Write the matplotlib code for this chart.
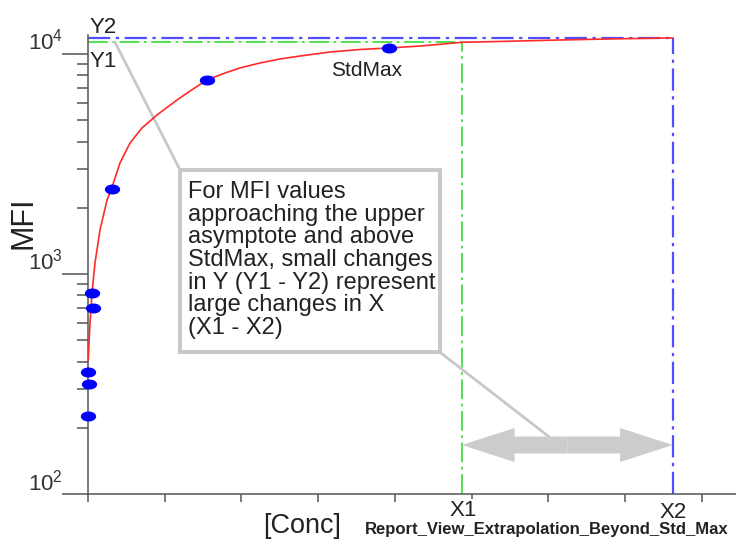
import matplotlib
matplotlib.use("Agg")
import matplotlib.pyplot as plt
from matplotlib.patches import FancyArrowPatch, ArrowStyle, Rectangle
from matplotlib.path import Path
from matplotlib.transforms import Affine2D
from matplotlib.ticker import FixedLocator, NullFormatter

plt.rcParams["font.family"] = ["Liberation Sans", "DejaVu Sans"]
plt.rcParams["mathtext.fontset"] = "custom"
plt.rcParams["mathtext.rm"] = "Liberation Sans"
plt.rcParams["mathtext.it"] = "Liberation Sans:italic"
plt.rcParams["mathtext.bf"] = "Liberation Sans:bold"

# standards
std_conc = [0.048, 0.069, 0.004, 0.013, 0.004, 0.31, 1.55, 3.92]
std_mfi = [820, 700, 359, 316, 226, 2430, 7620, 10650]

# fitted curve
curve_conc = [0.003, 0.026, 0.052, 0.091, 0.156, 0.248, 0.313, 0.417, 0.547,
              0.704, 0.899, 1.16, 1.33, 1.55, 1.785, 1.98, 2.24, 2.50, 2.76,
              3.15, 3.54, 3.92, 4.33, 4.87, 5.63, 6.15, 6.93, 7.62]
curve_mfi = [406, 599, 820, 1122, 1585, 2168, 2483, 3198, 3939,
             4613, 5284, 6180, 6790, 7622, 8197, 8640, 9100, 9490, 9790,
             10210, 10480, 10650, 10870, 11300, 11460, 11580, 11730, 11830]

# extrapolation markers
X1, X2 = 4.87, 7.62
Y1, Y2 = 11340, 11820
arrow_mfi = 167

y_major = [100, 1000, 10000]
y_labels = ["10$^{2}$", "10$^{3}$", "10$^{4}$"]
x_major = list(range(9))

box_text = ("For MFI values\napproaching the upper\nasymptote and above\n"
            "StdMax, small changes\nin Y (Y1 - Y2) represent\n"
            "large changes in X\n(X1 - X2)")

axis_col = "#555555"
text_col = "#222222"
callout_col = "#c8c8c8"

fig = plt.figure(figsize=(7.36, 5.39), dpi=100)
ax = fig.add_axes([88 / 736, 45 / 539, 648 / 736, 459 / 539])
ax.set_yscale("log")
ax.set_xlim(0, 8.443)
ax.set_ylim(100, 12200)

for s in ["top", "right"]:
    ax.spines[s].set_visible(False)
for s in ["left", "bottom"]:
    ax.spines[s].set_color(axis_col)
    ax.spines[s].set_linewidth(1.1)

ax.yaxis.set_major_locator(FixedLocator(y_major))
ax.yaxis.set_minor_formatter(NullFormatter())
ax.set_xticks(x_major)
ax.tick_params(axis="y", which="major", length=18.7, width=1.1, color=axis_col,
               labelleft=False)
ax.tick_params(axis="y", which="minor", length=7.9, width=1.1, color=axis_col)
ax.tick_params(axis="x", which="major", length=5.8, width=1.1, color=axis_col,
               labelbottom=False)

# y tick labels, sitting a bit above their ticks
for v, lab in zip(y_major, y_labels):
    ax.annotate(lab, xy=(0, v), xycoords=("axes fraction", "data"),
                xytext=(-25, 4), textcoords="offset pixels", ha="right",
                va="baseline", fontsize=16, color="#333333")

# Y1 / X1 and Y2 / X2 guide lines
ax.plot([0, X1], [Y1, Y1], color="#44dd44", lw=1.3, dashes=(11, 2.5, 1.5, 2.5))
ax.plot([X1, X1], [100, Y1], color="#44dd44", lw=1.3, dashes=(11, 2.5, 1.5, 2.5))
ax.plot([0, X2], [Y2, Y2], color="#4f4fff", lw=1.6, dashes=(10, 2.5, 1.5, 2.5))
ax.plot([X2, X2], [100, Y2], color="#4f4fff", lw=1.6, dashes=(10, 2.5, 1.5, 2.5))

ax.plot(curve_conc, curve_mfi, color="#ff2a2a", lw=1.2, zorder=3,
        solid_joinstyle="round")

ell = Path.unit_circle().transformed(Affine2D().scale(1, 0.62))
ax.plot(std_conc, std_mfi, ls="none", marker=ell, ms=10, color="#0000ff",
        mec="#0000ff", zorder=4, clip_on=False)

# callout box and leader lines
ax.annotate("", xy=(0.35, Y1), xycoords="data", xytext=(0.142, 0.706),
            textcoords="axes fraction",
            arrowprops=dict(arrowstyle="-", color=callout_col, lw=2,
                            shrinkA=0, shrinkB=0), zorder=2)
mid = (X1 + X2) / 2
ax.annotate("", xy=(mid - 0.1, arrow_mfi), xycoords="data",
            xytext=(0.543, 0.309), textcoords="axes fraction",
            arrowprops=dict(arrowstyle="-", color=callout_col, lw=2,
                            shrinkA=0, shrinkB=0), zorder=2)
ax.add_patch(Rectangle((0.142, 0.309), 0.401, 0.397, transform=ax.transAxes,
                       fc="white", ec=callout_col, lw=2.8, zorder=5))
ax.text(0.154, 0.682, box_text, transform=ax.transAxes, ha="left", va="top",
        fontsize=17, linespacing=1.04, color=text_col, zorder=6)

# double-headed grey arrow between X1 and X2
style = ArrowStyle.Simple(head_length=38, head_width=24.5, tail_width=12.2)
for end in (X1, X2):
    ax.add_patch(FancyArrowPatch((mid, arrow_mfi), (end, arrow_mfi),
                                 arrowstyle=style, mutation_scale=1,
                                 color="#cccccc", lw=0, shrinkA=0, shrinkB=0,
                                 zorder=3))

# labels
ax.annotate("Y2", xy=(0, Y2), xytext=(2, 5), textcoords="offset pixels",
            ha="left", va="baseline", fontsize=16, color=text_col)
ax.annotate("Y1", xy=(0, Y1), xytext=(2, -25), textcoords="offset pixels",
            ha="left", va="baseline", fontsize=16, color=text_col)
ax.annotate("StdMax", xy=(std_conc[-1], std_mfi[-1]), xytext=(-22, -28),
            textcoords="offset pixels", ha="center", va="baseline",
            fontsize=15, color=text_col)
ax.annotate("X1", xy=(X1, 0), xycoords=("data", "axes fraction"),
            xytext=(1, -22), textcoords="offset pixels", ha="center",
            va="baseline", fontsize=16, color=text_col,
            bbox=dict(fc="white", ec="none", pad=0.5))
ax.annotate("X2", xy=(X2, 0), xycoords=("data", "axes fraction"),
            xytext=(0, -24), textcoords="offset pixels", ha="center",
            va="baseline", fontsize=16, color=text_col)

fig.text(24 / 736, 1 - 223 / 539, "MFI", rotation=90, ha="center",
         va="center", fontsize=22, color=text_col)
fig.text(302 / 736, 6 / 539, "[Conc]", ha="center", va="baseline",
         fontsize=19.5, color=text_col)
fig.text(365 / 736, 5 / 539, "Report_View_Extrapolation_Beyond_Std_Max",
         ha="left", va="baseline", fontsize=12, fontweight="bold",
         color=text_col)

fig.savefig("out.png", dpi=100)
